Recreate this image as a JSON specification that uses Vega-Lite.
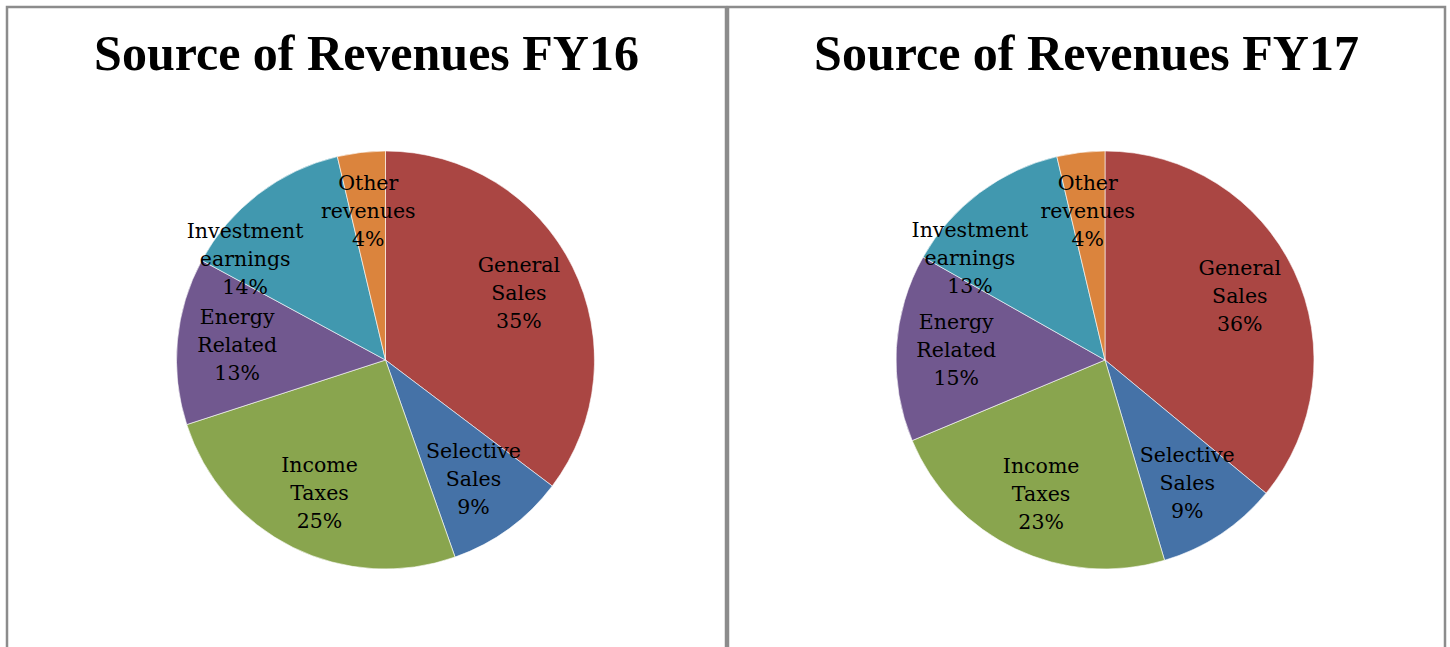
{
  "$schema": "https://vega.github.io/schema/vega-lite/v6.json",
  "background": "white",
  "padding": {"left": 5, "top": 5, "right": 0, "bottom": 0},
  "spacing": -2,
  "config": {
    "view": {"stroke": "#8c8c8c", "strokeWidth": 2.5},
    "font": "DejaVu Serif"
  },
  "data": {
    "values": [
      {"year": "FY16", "order": 1, "category": "General Sales", "value": 35.3, "label": ["General", "Sales", "35%"]},
      {"year": "FY16", "order": 2, "category": "Selective Sales", "value": 9.3, "label": ["Selective", "Sales", "9%"]},
      {"year": "FY16", "order": 3, "category": "Income Taxes", "value": 25.4, "label": ["Income", "Taxes", "25%"]},
      {"year": "FY16", "order": 4, "category": "Energy Related", "value": 12.9, "label": ["Energy", "Related", "13%"]},
      {"year": "FY16", "order": 5, "category": "Investment earnings", "value": 13.4, "label": ["Investment", "earnings", "14%"]},
      {"year": "FY16", "order": 6, "category": "Other revenues", "value": 3.7, "label": ["Other", "revenues", "4%"]},
      {"year": "FY17", "order": 1, "category": "General Sales", "value": 36.0, "label": ["General", "Sales", "36%"]},
      {"year": "FY17", "order": 2, "category": "Selective Sales", "value": 9.4, "label": ["Selective", "Sales", "9%"]},
      {"year": "FY17", "order": 3, "category": "Income Taxes", "value": 23.3, "label": ["Income", "Taxes", "23%"]},
      {"year": "FY17", "order": 4, "category": "Energy Related", "value": 14.5, "label": ["Energy", "Related", "15%"]},
      {"year": "FY17", "order": 5, "category": "Investment earnings", "value": 13.1, "label": ["Investment", "earnings", "13%"]},
      {"year": "FY17", "order": 6, "category": "Other revenues", "value": 3.7, "label": ["Other", "revenues", "4%"]}
    ]
  },
  "hconcat": [
    {
      "width": 719,
      "height": 706,
      "view": {"stroke": "#8c8c8c", "strokeWidth": 2.5, "fill": "white"},
      "title": {"text": "Source of Revenues FY16", "font": "Liberation Serif", "fontSize": 50, "fontWeight": "bold", "color": "#000000", "anchor": "middle", "baseline": "alphabetic", "offset": -113},
      "transform": [{"filter": "datum.year == 'FY16'"}],
      "encoding": {
        "theta": {"field": "value", "type": "quantitative", "stack": true},
        "order": {"field": "order", "type": "quantitative"}
      },
      "layer": [
        {
          "mark": {"type": "arc", "outerRadius": 209, "xOffset": 19, "stroke": "#ffffff", "strokeWidth": 0.6},
          "encoding": {
            "color": {"field": "category", "type": "nominal", "legend": null,
              "scale": {"domain": ["General Sales", "Selective Sales", "Income Taxes", "Energy Related", "Investment earnings", "Other revenues"],
                        "range": ["#AA4643", "#4572A7", "#89A54E", "#71588F", "#4198AF", "#DB843D"]}}
          }
        },
        {
          "mark": {"type": "text", "radius": 149, "xOffset": 19, "dy": -28, "fontSize": 20.5, "lineHeight": 28, "align": "center", "baseline": "middle", "color": "#000000"},
          "encoding": {
            "text": {"condition": {"test": "datum.category == 'Investment earnings'", "value": ""}, "field": "label"}
          }
        },
        {
          "mark": {"type": "text", "radius": 170, "xOffset": 19, "dx": -37, "dy": 7, "fontSize": 20.5, "lineHeight": 28, "align": "center", "baseline": "middle", "color": "#000000"},
          "encoding": {
            "text": {"condition": {"test": "datum.category != 'Investment earnings'", "value": ""}, "field": "label"}
          }
        }
      ]
    },
    {
      "width": 717,
      "height": 706,
      "view": {"stroke": "#8c8c8c", "strokeWidth": 2.5, "fill": "white"},
      "title": {"text": "Source of Revenues FY17", "font": "Liberation Serif", "fontSize": 50, "fontWeight": "bold", "color": "#000000", "anchor": "middle", "baseline": "alphabetic", "offset": -113},
      "transform": [{"filter": "datum.year == 'FY17'"}],
      "encoding": {
        "theta": {"field": "value", "type": "quantitative", "stack": true},
        "order": {"field": "order", "type": "quantitative"}
      },
      "layer": [
        {
          "mark": {"type": "arc", "outerRadius": 209, "xOffset": 18.5, "stroke": "#ffffff", "strokeWidth": 0.6},
          "encoding": {
            "color": {"field": "category", "type": "nominal", "legend": null,
              "scale": {"domain": ["General Sales", "Selective Sales", "Income Taxes", "Energy Related", "Investment earnings", "Other revenues"],
                        "range": ["#AA4643", "#4572A7", "#89A54E", "#71588F", "#4198AF", "#DB843D"]}}
          }
        },
        {
          "mark": {"type": "text", "radius": 149, "xOffset": 18.5, "dy": -28, "fontSize": 20.5, "lineHeight": 28, "align": "center", "baseline": "middle", "color": "#000000"},
          "encoding": {
            "text": {"condition": {"test": "datum.category == 'Investment earnings'", "value": ""}, "field": "label"}
          }
        },
        {
          "mark": {"type": "text", "radius": 170, "xOffset": 18.5, "dx": -33, "dy": 7, "fontSize": 20.5, "lineHeight": 28, "align": "center", "baseline": "middle", "color": "#000000"},
          "encoding": {
            "text": {"condition": {"test": "datum.category != 'Investment earnings'", "value": ""}, "field": "label"}
          }
        }
      ]
    }
  ]
}
